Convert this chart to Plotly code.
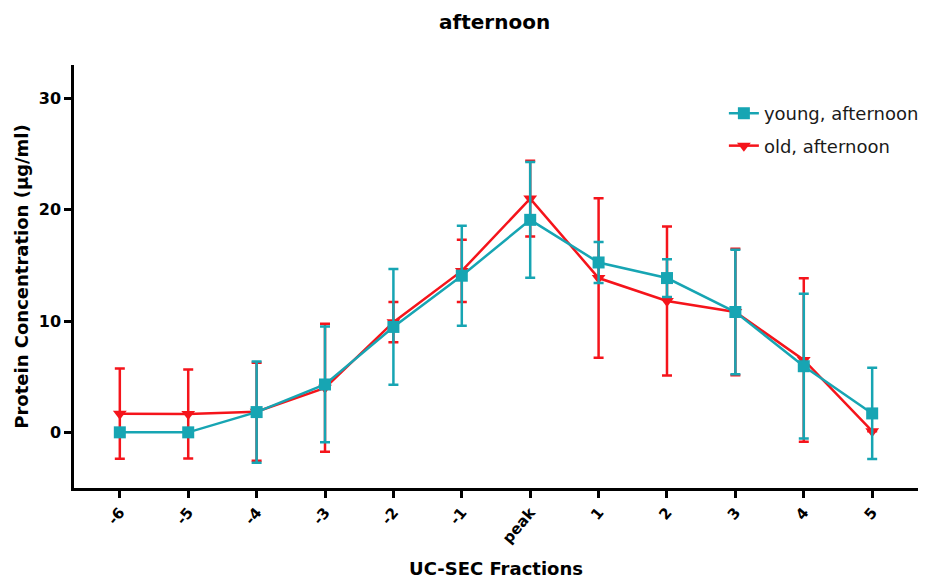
import plotly.graph_objects as go

categories = ["-6", "-5", "-4", "-3", "-2", "-1", "peak", "1", "2", "3", "4", "5"]

young_mean = [0.0, 0.0, 1.82, 4.3, 9.47, 14.07, 19.09, 15.26, 13.86, 10.81, 5.94, 1.7]
young_err = [0.0, 0.0, 4.55, 5.2, 5.2, 4.5, 5.2, 1.85, 1.7, 5.6, 6.5, 4.1]

old_mean = [1.68, 1.65, 1.85, 4.0, 9.9, 14.5, 21.0, 13.86, 11.8, 10.82, 6.5, 0.1]
old_err = [4.05, 4.0, 4.4, 5.75, 1.8, 2.8, 3.4, 7.17, 6.7, 5.68, 7.35, 0.0]

TEAL = "#17A5B3"
RED = "#F5141B"
FONT = "DejaVu Sans, Liberation Sans, Arial, sans-serif"

x_idx = list(range(len(categories)))

fig = go.Figure()
fig.add_trace(go.Scatter(
    x=x_idx, y=old_mean, name="old, afternoon", mode="lines+markers",
    legendgroup="old", legendrank=2,
    line=dict(color=RED, width=2.5),
    marker=dict(symbol="triangle-down", size=12, color=RED),
    error_y=dict(type="data", array=old_err, visible=True, color=RED, thickness=2.5, width=5),
))
fig.add_trace(go.Scatter(
    x=x_idx, y=young_mean, name="young, afternoon", mode="lines+markers",
    legendgroup="young", legendrank=1,
    line=dict(color=TEAL, width=2.5),
    marker=dict(symbol="square", size=12, color=TEAL),
    error_y=dict(type="data", array=young_err, visible=True, color=TEAL, thickness=2.5, width=5),
))

fig.update_layout(
    width=934, height=586,
    margin=dict(l=66, r=24, t=57, b=106),
    paper_bgcolor="white", plot_bgcolor="white",
    font=dict(family=FONT, color="black"),
    title=dict(text="<b>afternoon</b>", x=0.521, xanchor="center", y=0.976, yanchor="middle",
               font=dict(size=20, color="black")),
    showlegend=True,
    legend=dict(x=0.77, y=0.929, xanchor="left", yanchor="top", traceorder="grouped",
                font=dict(size=18, color="#1a1a1a"), bgcolor="rgba(0,0,0,0)",
                itemwidth=30, tracegroupgap=6),
    xaxis=dict(
        range=[-0.67, 11.67], tickmode="array", tickvals=x_idx,
        ticktext=["<b>%s</b>" % c for c in categories],
        tickangle=-50, showline=True, linecolor="black", linewidth=2.5,
        ticks="outside", ticklen=7, tickwidth=2.5, tickcolor="black",
        showgrid=False, zeroline=False,
        tickfont=dict(size=15, color="black"),
        title=dict(text="<b>UC-SEC Fractions</b>", font=dict(size=18, color="black"), standoff=17),
    ),
    yaxis=dict(
        range=[-5, 33], tickvals=[0, 10, 20, 30], ticktext=["<b>0</b>", "<b>10</b>", "<b>20</b>", "<b>30</b>"],
        showline=True, linecolor="black", linewidth=2.5,
        ticks="outside", ticklen=7, tickwidth=2.5, tickcolor="black",
        showgrid=False, zeroline=False,
        tickfont=dict(size=16, color="black"),
        title=dict(text="<b>Protein Concentration (µg/ml)</b>", font=dict(size=18, color="black"), standoff=6),
    ),
)

fig.write_html("out.html")
